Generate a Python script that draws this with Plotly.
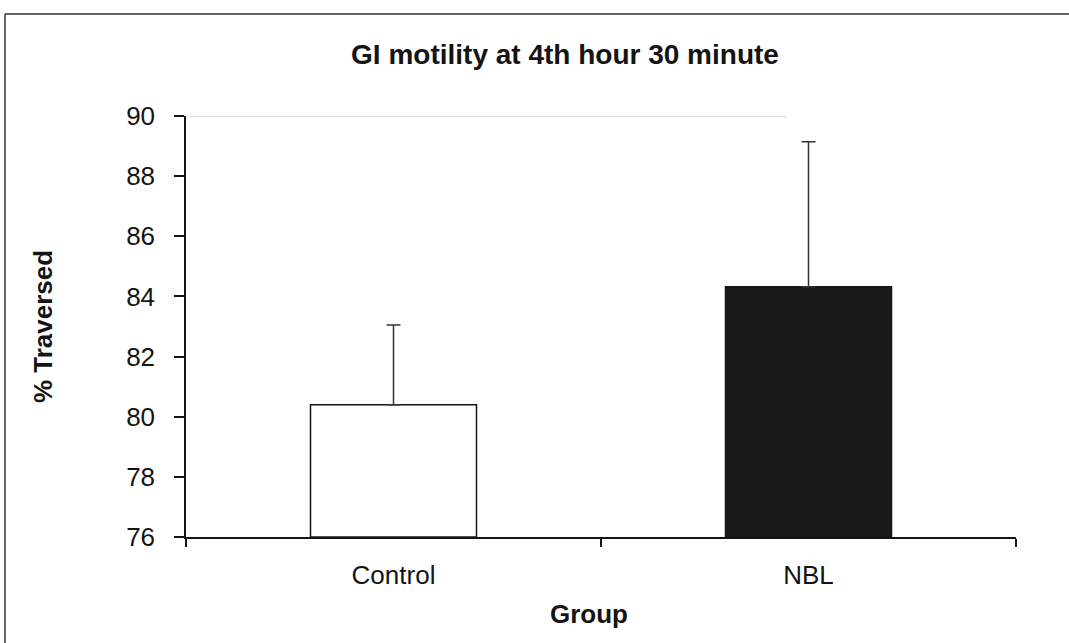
import plotly.graph_objects as go

categories = ["Control", "NBL"]
means = [80.4, 84.32]
errors_plus = [2.65, 4.82]
bar_fills = ["#ffffff", "#181818"]
y_ticks = [76, 78, 80, 82, 84, 86, 88, 90]

FONT = "Liberation Sans, Arial, Helvetica, sans-serif"
INK = "#141414"

fig = go.Figure()
fig.add_trace(go.Bar(
    x=categories,
    y=[m - 76 for m in means],
    base=76,
    marker=dict(color=bar_fills, line=dict(color=INK, width=1.5)),
    error_y=dict(type="data", symmetric=False, array=errors_plus, arrayminus=[0, 0],
                 color="#333333", thickness=1.5, width=7),
    width=0.4,
    showlegend=False,
    hoverinfo="x+y",
))

fig.update_layout(
    width=1069, height=643,
    margin=dict(l=186, r=53, t=116, b=106),
    paper_bgcolor="white", plot_bgcolor="white",
    font=dict(family=FONT, color=INK),
    title=dict(text="GI motility at 4th hour 30 minute",
               font=dict(family=FONT, size=28, color=INK, weight="bold"),
               x=565 / 1069, xanchor="center", xref="container",
               y=1 - 54 / 643, yanchor="middle", yref="container"),
    xaxis=dict(
        type="category",
        showline=True, linecolor=INK, linewidth=1.5,
        ticks="outside", ticklen=8, tickwidth=1.5, tickcolor=INK,
        tickson="boundaries",
        showgrid=False, zeroline=False,
        tickfont=dict(family=FONT, size=26, color=INK),
        ticklabelstandoff=14,
        range=[-0.5, 1.5],
    ),
    yaxis=dict(
        range=[76, 90], tickvals=y_ticks, ticktext=[str(v) for v in y_ticks],
        showline=True, linecolor=INK, linewidth=1.5,
        ticks="outside", ticklen=10, tickwidth=1.5, tickcolor=INK,
        showgrid=False, zeroline=False,
        tickfont=dict(family=FONT, size=26, color=INK),
        ticklabelstandoff=14,
        title=dict(text="% Traversed", font=dict(family=FONT, size=26, color=INK, weight="bold"),
                   standoff=66),
    ),
    annotations=[
        dict(text="Group", xref="paper", yref="paper",
             x=(589 - 186) / 830, y=(537 - 614) / 421, xanchor="center", yanchor="middle",
             showarrow=False, font=dict(family=FONT, size=26, color=INK, weight="bold")),
    ],
    shapes=[
        # faint scan line along the top of the plot
        dict(type="line", xref="paper", yref="y", x0=0.005, x1=0.724, y0=90, y1=90,
             line=dict(color="#dcdcdc", width=2)),
        # page frame lines (top and left)
        dict(type="line", xref="paper", yref="paper", x0=(5 - 186) / 830, x1=(1069 - 186) / 830,
             y0=(537 - 14) / 421, y1=(537 - 14) / 421, line=dict(color="#333333", width=1.5)),
        dict(type="line", xref="paper", yref="paper", x0=(5 - 186) / 830, x1=(5 - 186) / 830,
             y0=(537 - 14) / 421, y1=(537 - 643) / 421, line=dict(color="#333333", width=1.5)),
    ],
)
fig.update_xaxes(automargin=False)
fig.update_yaxes(automargin=False)

fig.write_html("out.html")
